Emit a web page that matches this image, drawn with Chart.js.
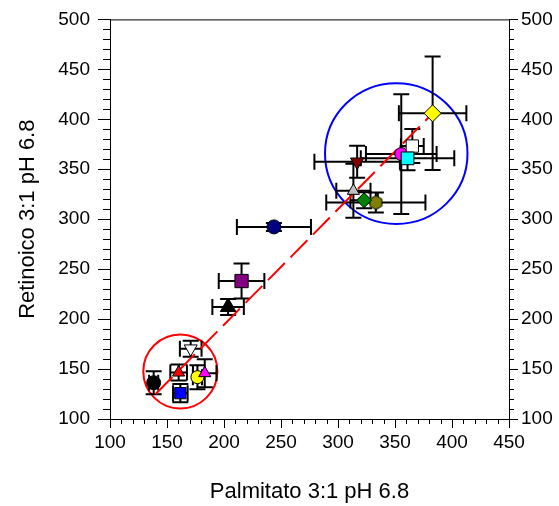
<!DOCTYPE html>
<html><head><meta charset="utf-8">
<script src="https://cdn.jsdelivr.net/npm/chart.js@4/dist/chart.umd.min.js"></script>
<style>html,body{margin:0;padding:0;background:#fff}</style>
</head><body>
<canvas id="c" width="559" height="506"></canvas>
<script>
// ---- data ----
const names = ['s1','s2','s3','s4','s5','s6','s7','s8','s9','s10','s11','s12','s13','s14','s15','s16','s17'];
const xValues = [138.3, 161.7, 160.2, 176.7, 183.1, 170.8, 203.6, 215.4, 243.8, 316.8, 313.5, 333.2, 322.9, 355.5, 365.2, 361.0, 383.0];
const yValues = [136.3, 125.9, 146.5, 141.9, 145.9, 170.4, 212.1, 238.1, 292.3, 357.4, 328.4, 316.7, 319.0, 365.2, 373.2, 360.9, 406.0];
const xErrors = [4, 6.4, 7.3, 4, 10.3, 9.5, 13.8, 20, 32.5, 37.5, 15, 43.5, 12, 31, 10, 41, 29.6];
const yErrors = [11.5, 9.2, 8, 12, 14, 8, 8, 17.5, 4, 16, 27, 10, 8, 60, 17, 12, 56.8];
const xTicks = [100, 150, 200, 250, 300, 350, 400, 450];
const yTicks = [100, 150, 200, 250, 300, 350, 400, 450, 500];
const fitLineX = [140, 383];
const fitLineY = [125, 406];
const ringCenterX = [161.7, 351.1];
const ringCenterY = [147.6, 365.7];
const ringRadiusX = [32.5, 62.5];
const ringRadiusY = [37, 70.5];
const xTitle = 'Palmitato 3:1 pH 6.8';
const yTitle = 'Retinoico 3:1 pH 6.8';

// ---- styles ----
function hexagon(r, fill) {
  const s = Math.ceil(2 * r + 4), c = document.createElement('canvas');
  c.width = s; c.height = s;
  const g = c.getContext('2d');
  g.beginPath();
  for (let k = 0; k < 6; k++) {
    const a = -Math.PI / 2 + k * Math.PI / 3;
    const px = s / 2 + r * Math.cos(a), py = s / 2 + r * Math.sin(a);
    k ? g.lineTo(px, py) : g.moveTo(px, py);
  }
  g.closePath(); g.fillStyle = fill; g.fill();
  g.strokeStyle = '#000'; g.lineWidth = 1; g.stroke();
  return c;
}
const markerStyles = [
  {shape:'circle', r:7, color:'#000000'},
  {shape:'rect', r:8, color:'#0000FF'},
  {shape:'triangle', r:7, color:'#FF0000'},
  {shape:'circle', r:6.5, color:'#FFFF00'},
  {shape:'triangle', r:7, color:'#FF00FF'},
  {shape:'triangle', r:7.5, color:'#FFFFFF', rot:180},
  {shape:'triangle', r:9, color:'#000000'},
  {shape:'rect', r:9.4, color:'#800080'},
  {shape:'circle', r:7, color:'#000080'},
  {shape:'triangle', r:7.7, color:'#800000', rot:180},
  {shape:'triangle', r:7, color:'#C0C0C0'},
  {shape:hexagon(7, '#808000'), r:7, color:'#808000'},
  {shape:'rectRot', r:7.5, color:'#008000'},
  {shape:'circle', r:6.5, color:'#FF00FF'},
  {shape:'rect', r:8.7, color:'#FFFFFF'},
  {shape:'rect', r:9, color:'#00FFFF'},
  {shape:'rectRot', r:8.5, color:'#FFFF00'}
];

const N = names.length;
const datasets = names.map((n, i) => ({
  type: 'scatter',
  label: n,
  data: [{x: xValues[i], y: yValues[i]}],
  pointStyle: markerStyles[i].shape,
  rotation: markerStyles[i].rot || 0,
  pointRadius: markerStyles[i].r,
  pointHoverRadius: markerStyles[i].r,
  backgroundColor: markerStyles[i].color,
  borderColor: '#000',
  borderWidth: 1,
  order: N - i
}));
datasets.push({
  type: 'line',
  label: 'fit',
  data: fitLineX.map((x, i) => ({x, y: fitLineY[i]})),
  borderColor: '#FF0000',
  borderWidth: 2,
  borderDash: [24, 8],
  pointRadius: 0,
  fill: false,
  order: 1000
});

const decor = {
  id: 'decor',
  beforeDatasetsDraw(chart) {
    const {ctx, scales: {x, y}} = chart;
    ctx.save();
    // rings
    const ringColors = ['#FF0000', '#0000FF'];
    ctx.lineWidth = 2;
    ringCenterX.forEach((cx, i) => {
      const px = x.getPixelForValue(cx), py = y.getPixelForValue(ringCenterY[i]);
      const rx = Math.abs(x.getPixelForValue(cx + ringRadiusX[i]) - px);
      const ry = Math.abs(y.getPixelForValue(ringCenterY[i] + ringRadiusY[i]) - py);
      ctx.strokeStyle = ringColors[i];
      ctx.beginPath(); ctx.ellipse(px, py, rx, ry, 0, 0, Math.PI * 2); ctx.stroke();
    });
    // error bars
    ctx.strokeStyle = '#000'; ctx.lineWidth = 2;
    const cap = 8;
    xValues.forEach((xv, i) => {
      const px = x.getPixelForValue(xv), py = y.getPixelForValue(yValues[i]);
      const x1 = x.getPixelForValue(xv - xErrors[i]), x2 = x.getPixelForValue(xv + xErrors[i]);
      const y1 = y.getPixelForValue(yValues[i] - yErrors[i]), y2 = y.getPixelForValue(yValues[i] + yErrors[i]);
      ctx.beginPath();
      ctx.moveTo(x1, py); ctx.lineTo(x2, py);
      ctx.moveTo(x1, py - cap); ctx.lineTo(x1, py + cap);
      ctx.moveTo(x2, py - cap); ctx.lineTo(x2, py + cap);
      ctx.moveTo(px, y1); ctx.lineTo(px, y2);
      ctx.moveTo(px - cap, y1); ctx.lineTo(px + cap, y1);
      ctx.moveTo(px - cap, y2); ctx.lineTo(px + cap, y2);
      ctx.stroke();
    });
    ctx.restore();
  },
  afterDraw(chart) {
    const {ctx, scales: {x, y}, chartArea: a} = chart;
    ctx.save();
    ctx.strokeStyle = '#000'; ctx.lineWidth = 1;
    ctx.beginPath();
    // top border
    ctx.moveTo(a.left, a.top + 0.5); ctx.lineTo(a.right + 1, a.top + 0.5);
    // minor ticks
    for (let v = x.min + 10; v < x.max; v += 10) {
      if (v % 50 === 0) continue;
      const px = Math.round(x.getPixelForValue(v)) + 0.5;
      ctx.moveTo(px, a.bottom); ctx.lineTo(px, a.bottom + 5);
    }
    for (let v = y.min + 10; v < y.max; v += 10) {
      if (v % 50 === 0) continue;
      const py = Math.round(y.getPixelForValue(v)) + 0.5;
      ctx.moveTo(a.left, py); ctx.lineTo(a.left - 7, py);
      ctx.moveTo(a.right, py); ctx.lineTo(a.right + 5, py);
    }
    ctx.stroke();
    ctx.restore();
  }
};

Chart.defaults.font.family = "'Liberation Sans', Arial, sans-serif";
Chart.defaults.color = '#000';

const tickFont = {size: 19};
new Chart(document.getElementById('c'), {
  data: {datasets},
  options: {
    responsive: false,
    animation: false,
    devicePixelRatio: 1,
    layout: {padding: {top: 19, left: 0, right: 0, bottom: 0}},
    plugins: {legend: {display: false}, tooltip: {enabled: false}},
    scales: {
      x: {
        type: 'linear', position: 'bottom', min: 100, max: 450,
        afterBuildTicks: s => { s.ticks = xTicks.map(v => ({value: v})); },
        ticks: {font: tickFont, color: '#000', padding: 3, maxRotation: 0, autoSkip: false},
        grid: {drawOnChartArea: false, drawTicks: true, tickLength: 9, tickColor: '#000', tickWidth: 1},
        border: {display: true, color: '#000', width: 1},
        title: {display: true, text: xTitle, font: {size: 22}, color: '#000', padding: {top: 0, bottom: 1}},
        afterFit: s => { s.height = 87; }
      },
      y: {
        type: 'linear', position: 'left', min: 100, max: 500,
        afterBuildTicks: s => { s.ticks = yTicks.map(v => ({value: v})); },
        ticks: {font: tickFont, color: '#000', padding: 8, autoSkip: false},
        grid: {drawOnChartArea: false, drawTicks: true, tickLength: 12, tickColor: '#000', tickWidth: 1},
        border: {display: true, color: '#000', width: 1},
        title: {display: true, text: yTitle, font: {size: 22}, color: '#000', padding: {top: 15, bottom: 0}},
        afterFit: s => { s.width = 110; }
      },
      y2: {
        type: 'linear', position: 'right', min: 100, max: 500,
        afterBuildTicks: s => { s.ticks = yTicks.map(v => ({value: v})); },
        ticks: {font: tickFont, color: '#000', padding: 3, autoSkip: false},
        grid: {drawOnChartArea: false, drawTicks: true, tickLength: 9, tickColor: '#000', tickWidth: 1},
        border: {display: true, color: '#000', width: 1},
        afterFit: s => { s.width = 50; }
      }
    }
  },
  plugins: [decor]
});
</script>
</body></html>
